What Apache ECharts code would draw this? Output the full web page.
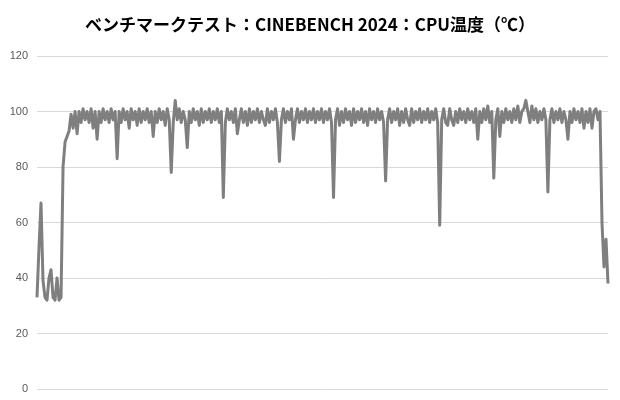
<!DOCTYPE html>
<html>
<head>
<meta charset="utf-8">
<script src="https://cdn.jsdelivr.net/npm/echarts@6/dist/echarts.min.js"></script>
<style>
html,body{margin:0;padding:0;background:#fff;}
#c{width:620px;height:400px;}
</style>
</head>
<body>
<div id="c"></div>
<script>
const titleText = 'ベンチマークテスト：CINEBENCH 2024：CPU温度（℃）';
const yTicks = [0, 20, 40, 60, 80, 100, 120];
const temps = [
33,51,67,39,33,32,40,43,33,32,40,32,33,
80,89,91,93,99,94,100,
92,
100,96,101,97,100,96,101,94,100,
90,
100,96,101,97,100,96,101,97,100,
83,
100,96,101,97,100,94,101,97,100,95,101,96,100,97,101,96,100,
91,
100,96,101,97,100,95,101,
97,78,96,104,97,101,96,100,97,
87,
100,96,101,97,100,95,101,96,100,97,101,96,100,97,101,96,100,
69,
96,101,97,100,96,101,
92,
97,101,96,100,95,101,96,100,97,101,96,100,97,95,101,96,100,97,101,96,
82,
97,101,96,100,97,101,
90,
97,101,96,100,97,101,96,100,97,101,96,100,97,101,96,100,97,101,96,
69,
97,101,95,100,96,101,97,100,95,101,96,100,97,101,96,100,95,101,97,100,96,101,97,100,96,
75,
97,101,96,100,97,101,95,100,96,101,97,95,101,96,100,97,101,96,100,97,101,96,100,97,101,96,
59,
97,101,96,95,101,97,95,100,96,101,97,100,96,101,97,100,96,101,
90,
100,96,101,97,102,96,100,
76,
97,101,91,
100,96,101,97,100,96,101,97,102,96,100,101,
104,
100,96,102,97,101,96,100,97,101,97,
71,
97,101,96,100,97,101,96,100,97,
90,
100,96,101,97,100,96,101,94,100,96,101,94,100,101,97,100,
60,44,54,38
];
const samples = temps.map((_, i) => String(i + 1));

const chart = echarts.init(document.getElementById('c'), null, {renderer: 'canvas'});
chart.setOption({
  animation: false,
  backgroundColor: '#ffffff',
  title: {
    text: titleText,
    left: 'center',
    top: 11,
    textStyle: {
      fontFamily: '"Noto Sans CJK JP", sans-serif',
      fontSize: 17,
      fontWeight: 'bold',
      color: '#000000'
    }
  },
  grid: {left: 37, right: 12, top: 56, bottom: 11, containLabel: false},
  xAxis: {
    type: 'category',
    data: samples,
    boundaryGap: false,
    axisLine: {show: false},
    axisTick: {show: false},
    axisLabel: {show: false},
    splitLine: {show: false}
  },
  yAxis: {
    type: 'value',
    min: yTicks[0],
    max: yTicks[yTicks.length - 1],
    interval: 20,
    axisLine: {show: false},
    axisTick: {show: false},
    axisLabel: {
      color: '#595959',
      fontSize: 11,
      margin: 9,
      fontFamily: '"Liberation Sans", Arial, sans-serif'
    },
    splitLine: {lineStyle: {color: '#d9d9d9', width: 1}}
  },
  series: [{
    type: 'line',
    data: temps,
    symbol: 'none',
    smooth: false,
    lineStyle: {color: '#7f7f7f', width: 3, join: 'round'},
    itemStyle: {color: '#7f7f7f'}
  }]
});
</script>
</body>
</html>
